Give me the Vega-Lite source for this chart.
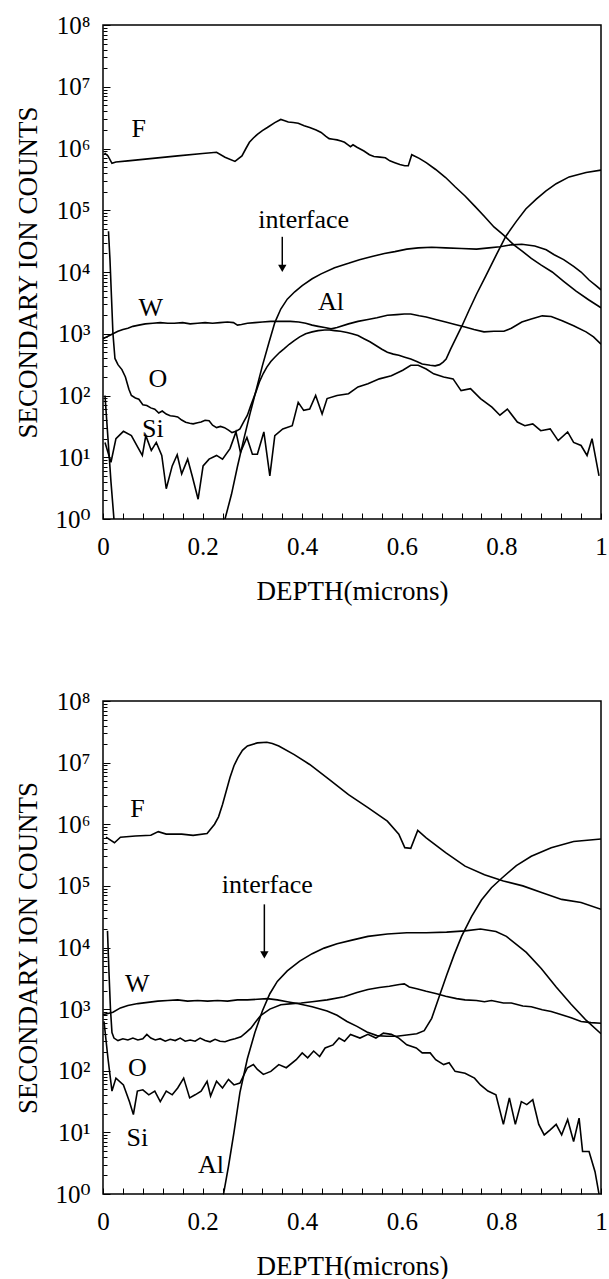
{
"$schema": "https://vega.github.io/schema/vega-lite/v6.json",
"padding": {"left": 14, "top": 12, "right": 6, "bottom": 5},
"spacing": 83,
"config": {
 "font": "Liberation Serif, Times New Roman, Times, DejaVu Serif, serif",
 "view": {"stroke": "black", "strokeWidth": 1.5},
 "axis": {"domain": false, "grid": false, "labelFont": "Liberation Serif, Times New Roman, Times, DejaVu Serif, serif", "labelFontSize": 25, "labelColor": "black", "titleFont": "Liberation Serif, Times New Roman, Times, DejaVu Serif, serif", "titleFontSize": 27, "titleFontWeight": "normal", "titleColor": "black", "tickColor": "black", "tickWidth": 1, "labelOverlap": false},
 "text": {"font": "Liberation Serif, Times New Roman, Times, DejaVu Serif, serif", "fontSize": 26, "color": "black"}
},
"datasets": {
 "top": [
  {"s":"F","x":0.003,"y":851000},{"s":"F","x":0.01,"y":759000},{"s":"F","x":0.018,"y":575000},{"s":"F","x":0.026,"y":603000},{"s":"F","x":0.05,"y":631000},{"s":"F","x":0.1,"y":692000},{"s":"F","x":0.15,"y":759000},{"s":"F","x":0.2,"y":832000},{"s":"F","x":0.228,"y":871000},{"s":"F","x":0.245,"y":724000},{"s":"F","x":0.265,"y":617000},{"s":"F","x":0.279,"y":759000},{"s":"F","x":0.287,"y":1000000},{"s":"F","x":0.294,"y":1259000},{"s":"F","x":0.302,"y":1479000},{"s":"F","x":0.31,"y":1698000},{"s":"F","x":0.32,"y":1950000},{"s":"F","x":0.33,"y":2188000},{"s":"F","x":0.345,"y":2630000},{"s":"F","x":0.357,"y":2951000},{"s":"F","x":0.365,"y":2818000},{"s":"F","x":0.372,"y":2692000},{"s":"F","x":0.382,"y":2630000},{"s":"F","x":0.392,"y":2570000},{"s":"F","x":0.404,"y":2344000},{"s":"F","x":0.415,"y":2188000},{"s":"F","x":0.428,"y":1995000},{"s":"F","x":0.438,"y":1820000},{"s":"F","x":0.447,"y":1585000},{"s":"F","x":0.454,"y":1445000},{"s":"F","x":0.462,"y":1413000},{"s":"F","x":0.47,"y":1380000},{"s":"F","x":0.478,"y":1318000},{"s":"F","x":0.485,"y":1259000},{"s":"F","x":0.492,"y":1148000},{"s":"F","x":0.497,"y":1072000},{"s":"F","x":0.502,"y":1148000},{"s":"F","x":0.51,"y":1047000},{"s":"F","x":0.524,"y":912000},{"s":"F","x":0.535,"y":794000},{"s":"F","x":0.544,"y":741000},{"s":"F","x":0.556,"y":724000},{"s":"F","x":0.567,"y":708000},{"s":"F","x":0.576,"y":631000},{"s":"F","x":0.586,"y":589000},{"s":"F","x":0.596,"y":550000},{"s":"F","x":0.606,"y":525000},{"s":"F","x":0.613,"y":525000},{"s":"F","x":0.62,"y":794000},{"s":"F","x":0.635,"y":692000},{"s":"F","x":0.649,"y":589000},{"s":"F","x":0.668,"y":457000},{"s":"F","x":0.688,"y":339000},{"s":"F","x":0.707,"y":240000},{"s":"F","x":0.727,"y":170000},{"s":"F","x":0.746,"y":117500},{"s":"F","x":0.766,"y":79400},{"s":"F","x":0.785,"y":53700},{"s":"F","x":0.804,"y":39800},{"s":"F","x":0.825,"y":27500},{"s":"F","x":0.843,"y":21400},{"s":"F","x":0.86,"y":16600},{"s":"F","x":0.88,"y":12900},{"s":"F","x":0.902,"y":10000},{"s":"F","x":0.925,"y":7080},{"s":"F","x":0.95,"y":4900},{"s":"F","x":0.975,"y":3550},{"s":"F","x":1.0,"y":2630},
  {"s":"Al","x":0.004,"y":100},{"s":"Al","x":0.01,"y":20},{"s":"Al","x":0.016,"y":4},{"s":"Al","x":0.022,"y":1},{"s":"Al","x":0.027,"y":0.25},{"s":"Al","x":0.235,"y":0.25},{"s":"Al","x":0.245,"y":1},{"s":"Al","x":0.258,"y":2.51},{"s":"Al","x":0.27,"y":7.08},{"s":"Al","x":0.283,"y":20},{"s":"Al","x":0.295,"y":50},{"s":"Al","x":0.308,"y":126},{"s":"Al","x":0.32,"y":302},{"s":"Al","x":0.333,"y":708},{"s":"Al","x":0.345,"y":1514},{"s":"Al","x":0.357,"y":2512},{"s":"Al","x":0.37,"y":3631},{"s":"Al","x":0.385,"y":4786},{"s":"Al","x":0.4,"y":6026},{"s":"Al","x":0.42,"y":7762},{"s":"Al","x":0.438,"y":9333},{"s":"Al","x":0.465,"y":11750},{"s":"Al","x":0.493,"y":13800},{"s":"Al","x":0.515,"y":15850},{"s":"Al","x":0.54,"y":17780},{"s":"Al","x":0.565,"y":19950},{"s":"Al","x":0.586,"y":21380},{"s":"Al","x":0.61,"y":23440},{"s":"Al","x":0.633,"y":24550},{"s":"Al","x":0.66,"y":25120},{"s":"Al","x":0.688,"y":24550},{"s":"Al","x":0.72,"y":23990},{"s":"Al","x":0.75,"y":23440},{"s":"Al","x":0.775,"y":24550},{"s":"Al","x":0.797,"y":25700},{"s":"Al","x":0.82,"y":27540},{"s":"Al","x":0.841,"y":28180},{"s":"Al","x":0.867,"y":26300},{"s":"Al","x":0.89,"y":22910},{"s":"Al","x":0.906,"y":19050},{"s":"Al","x":0.925,"y":15850},{"s":"Al","x":0.945,"y":12300},{"s":"Al","x":0.96,"y":10000},{"s":"Al","x":0.976,"y":7413},{"s":"Al","x":0.99,"y":6026},{"s":"Al","x":1.0,"y":5129},
  {"s":"W","x":0.0,"y":832},{"s":"W","x":0.01,"y":912},{"s":"W","x":0.02,"y":1000},{"s":"W","x":0.03,"y":1096},{"s":"W","x":0.04,"y":1175},{"s":"W","x":0.05,"y":1230},{"s":"W","x":0.06,"y":1318},{"s":"W","x":0.072,"y":1380},{"s":"W","x":0.085,"y":1445},{"s":"W","x":0.1,"y":1479},{"s":"W","x":0.115,"y":1514},{"s":"W","x":0.13,"y":1479},{"s":"W","x":0.143,"y":1479},{"s":"W","x":0.16,"y":1514},{"s":"W","x":0.175,"y":1445},{"s":"W","x":0.19,"y":1479},{"s":"W","x":0.205,"y":1514},{"s":"W","x":0.22,"y":1479},{"s":"W","x":0.235,"y":1514},{"s":"W","x":0.25,"y":1549},{"s":"W","x":0.262,"y":1514},{"s":"W","x":0.27,"y":1380},{"s":"W","x":0.278,"y":1413},{"s":"W","x":0.29,"y":1479},{"s":"W","x":0.305,"y":1514},{"s":"W","x":0.32,"y":1549},{"s":"W","x":0.337,"y":1585},{"s":"W","x":0.355,"y":1585},{"s":"W","x":0.376,"y":1585},{"s":"W","x":0.393,"y":1549},{"s":"W","x":0.407,"y":1479},{"s":"W","x":0.42,"y":1380},{"s":"W","x":0.432,"y":1318},{"s":"W","x":0.445,"y":1259},{"s":"W","x":0.458,"y":1202},{"s":"W","x":0.47,"y":1259},{"s":"W","x":0.493,"y":1445},{"s":"W","x":0.512,"y":1585},{"s":"W","x":0.532,"y":1698},{"s":"W","x":0.55,"y":1820},{"s":"W","x":0.571,"y":1995},{"s":"W","x":0.59,"y":2042},{"s":"W","x":0.605,"y":2089},{"s":"W","x":0.618,"y":2089},{"s":"W","x":0.635,"y":1950},{"s":"W","x":0.649,"y":1862},{"s":"W","x":0.668,"y":1698},{"s":"W","x":0.688,"y":1549},{"s":"W","x":0.707,"y":1413},{"s":"W","x":0.727,"y":1288},{"s":"W","x":0.745,"y":1175},{"s":"W","x":0.765,"y":1072},{"s":"W","x":0.785,"y":1096},{"s":"W","x":0.805,"y":1096},{"s":"W","x":0.82,"y":1230},{"s":"W","x":0.841,"y":1549},{"s":"W","x":0.86,"y":1738},{"s":"W","x":0.882,"y":1950},{"s":"W","x":0.9,"y":1905},{"s":"W","x":0.922,"y":1622},{"s":"W","x":0.945,"y":1349},{"s":"W","x":0.97,"y":1072},{"s":"W","x":0.985,"y":891},{"s":"W","x":1.0,"y":676},
  {"s":"O","x":0.011,"y":45700},{"s":"O","x":0.014,"y":15850},{"s":"O","x":0.017,"y":3981},{"s":"O","x":0.02,"y":1000},{"s":"O","x":0.024,"y":398},{"s":"O","x":0.03,"y":316},{"s":"O","x":0.038,"y":263},{"s":"O","x":0.045,"y":200},{"s":"O","x":0.052,"y":126},{"s":"O","x":0.057,"y":100},{"s":"O","x":0.065,"y":91},{"s":"O","x":0.072,"y":87},{"s":"O","x":0.08,"y":71},{"s":"O","x":0.088,"y":69},{"s":"O","x":0.096,"y":63},{"s":"O","x":0.104,"y":60},{"s":"O","x":0.112,"y":52},{"s":"O","x":0.119,"y":56},{"s":"O","x":0.127,"y":50},{"s":"O","x":0.135,"y":47},{"s":"O","x":0.143,"y":46},{"s":"O","x":0.15,"y":45},{"s":"O","x":0.158,"y":40},{"s":"O","x":0.166,"y":37},{"s":"O","x":0.174,"y":35.5},{"s":"O","x":0.181,"y":34.7},{"s":"O","x":0.19,"y":36.3},{"s":"O","x":0.197,"y":37.2},{"s":"O","x":0.205,"y":39.8},{"s":"O","x":0.213,"y":38.9},{"s":"O","x":0.22,"y":33.1},{"s":"O","x":0.228,"y":30.2},{"s":"O","x":0.236,"y":31.6},{"s":"O","x":0.244,"y":30.2},{"s":"O","x":0.252,"y":27.5},{"s":"O","x":0.259,"y":25.1},{"s":"O","x":0.267,"y":26.3},{"s":"O","x":0.275,"y":28.8},{"s":"O","x":0.283,"y":38},{"s":"O","x":0.29,"y":47.9},{"s":"O","x":0.296,"y":66},{"s":"O","x":0.302,"y":89},{"s":"O","x":0.308,"y":120},{"s":"O","x":0.314,"y":166},{"s":"O","x":0.322,"y":229},{"s":"O","x":0.329,"y":288},{"s":"O","x":0.337,"y":355},{"s":"O","x":0.345,"y":417},{"s":"O","x":0.355,"y":501},{"s":"O","x":0.364,"y":575},{"s":"O","x":0.374,"y":676},{"s":"O","x":0.384,"y":776},{"s":"O","x":0.395,"y":891},{"s":"O","x":0.407,"y":1000},{"s":"O","x":0.42,"y":1072},{"s":"O","x":0.432,"y":1122},{"s":"O","x":0.445,"y":1148},{"s":"O","x":0.455,"y":1148},{"s":"O","x":0.465,"y":1122},{"s":"O","x":0.477,"y":1096},{"s":"O","x":0.49,"y":1047},{"s":"O","x":0.5,"y":1000},{"s":"O","x":0.512,"y":933},{"s":"O","x":0.524,"y":832},{"s":"O","x":0.536,"y":741},{"s":"O","x":0.548,"y":646},{"s":"O","x":0.56,"y":562},{"s":"O","x":0.571,"y":501},{"s":"O","x":0.583,"y":468},{"s":"O","x":0.594,"y":447},{"s":"O","x":0.606,"y":417},{"s":"O","x":0.618,"y":389},{"s":"O","x":0.63,"y":355},{"s":"O","x":0.641,"y":324},{"s":"O","x":0.657,"y":309},{"s":"O","x":0.667,"y":302},{"s":"O","x":0.676,"y":316},{"s":"O","x":0.683,"y":347},{"s":"O","x":0.689,"y":389},{"s":"O","x":0.698,"y":562},{"s":"O","x":0.71,"y":891},{"s":"O","x":0.721,"y":1349},{"s":"O","x":0.735,"y":2399},{"s":"O","x":0.75,"y":4365},{"s":"O","x":0.769,"y":8710},{"s":"O","x":0.79,"y":19050},{"s":"O","x":0.809,"y":38020},{"s":"O","x":0.83,"y":66070},{"s":"O","x":0.849,"y":104700},{"s":"O","x":0.87,"y":151400},{"s":"O","x":0.889,"y":204200},{"s":"O","x":0.91,"y":269200},{"s":"O","x":0.936,"y":346700},{"s":"O","x":0.97,"y":407400},{"s":"O","x":1.0,"y":446700},
  {"s":"Si","x":0.004,"y":17.4},{"s":"Si","x":0.016,"y":8.3},{"s":"Si","x":0.026,"y":20},{"s":"Si","x":0.041,"y":26.3},{"s":"Si","x":0.057,"y":22.4},{"s":"Si","x":0.07,"y":14.5},{"s":"Si","x":0.079,"y":10.7},{"s":"Si","x":0.086,"y":22.4},{"s":"Si","x":0.097,"y":12.9},{"s":"Si","x":0.107,"y":17.4},{"s":"Si","x":0.118,"y":10.7},{"s":"Si","x":0.127,"y":3.09},{"s":"Si","x":0.139,"y":7.24},{"s":"Si","x":0.149,"y":11},{"s":"Si","x":0.158,"y":5.37},{"s":"Si","x":0.17,"y":9.33},{"s":"Si","x":0.179,"y":5.01},{"s":"Si","x":0.191,"y":2.09},{"s":"Si","x":0.201,"y":7.24},{"s":"Si","x":0.213,"y":9.33},{"s":"Si","x":0.228,"y":10.7},{"s":"Si","x":0.24,"y":9.33},{"s":"Si","x":0.255,"y":13.8},{"s":"Si","x":0.267,"y":25.7},{"s":"Si","x":0.276,"y":12},{"s":"Si","x":0.289,"y":20.9},{"s":"Si","x":0.3,"y":11.2},{"s":"Si","x":0.31,"y":11.2},{"s":"Si","x":0.323,"y":25.7},{"s":"Si","x":0.335,"y":5.01},{"s":"Si","x":0.345,"y":22.4},{"s":"Si","x":0.361,"y":28.8},{"s":"Si","x":0.38,"y":32.4},{"s":"Si","x":0.392,"y":77.6},{"s":"Si","x":0.403,"y":57.5},{"s":"Si","x":0.415,"y":60.3},{"s":"Si","x":0.427,"y":100},{"s":"Si","x":0.44,"y":50.1},{"s":"Si","x":0.45,"y":89.1},{"s":"Si","x":0.47,"y":100},{"s":"Si","x":0.493,"y":107},{"s":"Si","x":0.512,"y":138},{"s":"Si","x":0.532,"y":155},{"s":"Si","x":0.555,"y":186},{"s":"Si","x":0.579,"y":209},{"s":"Si","x":0.602,"y":257},{"s":"Si","x":0.618,"y":309},{"s":"Si","x":0.633,"y":309},{"s":"Si","x":0.649,"y":269},{"s":"Si","x":0.664,"y":224},{"s":"Si","x":0.684,"y":200},{"s":"Si","x":0.703,"y":186},{"s":"Si","x":0.719,"y":120},{"s":"Si","x":0.738,"y":129},{"s":"Si","x":0.758,"y":89.1},{"s":"Si","x":0.781,"y":64.6},{"s":"Si","x":0.797,"y":47.9},{"s":"Si","x":0.812,"y":60.3},{"s":"Si","x":0.832,"y":37.2},{"s":"Si","x":0.847,"y":32.4},{"s":"Si","x":0.863,"y":34.7},{"s":"Si","x":0.879,"y":26.9},{"s":"Si","x":0.898,"y":28.8},{"s":"Si","x":0.914,"y":18.6},{"s":"Si","x":0.933,"y":25.7},{"s":"Si","x":0.945,"y":17.4},{"s":"Si","x":0.96,"y":15.5},{"s":"Si","x":0.972,"y":10.7},{"s":"Si","x":0.982,"y":20},{"s":"Si","x":0.996,"y":5}
 ],
 "bottom": [
  {"s":"F","x":0.006,"y":617000},{"s":"F","x":0.023,"y":501000},{"s":"F","x":0.035,"y":617000},{"s":"F","x":0.065,"y":646000},{"s":"F","x":0.096,"y":661000},{"s":"F","x":0.111,"y":759000},{"s":"F","x":0.127,"y":692000},{"s":"F","x":0.158,"y":692000},{"s":"F","x":0.181,"y":661000},{"s":"F","x":0.209,"y":708000},{"s":"F","x":0.224,"y":1000000},{"s":"F","x":0.232,"y":1318000},{"s":"F","x":0.24,"y":2089000},{"s":"F","x":0.255,"y":5754000},{"s":"F","x":0.263,"y":8913000},{"s":"F","x":0.271,"y":12020000},{"s":"F","x":0.28,"y":15850000},{"s":"F","x":0.29,"y":18620000},{"s":"F","x":0.31,"y":20890000},{"s":"F","x":0.329,"y":21380000},{"s":"F","x":0.34,"y":20420000},{"s":"F","x":0.353,"y":18620000},{"s":"F","x":0.384,"y":13490000},{"s":"F","x":0.415,"y":9333000},{"s":"F","x":0.454,"y":5370000},{"s":"F","x":0.493,"y":3020000},{"s":"F","x":0.532,"y":1862000},{"s":"F","x":0.571,"y":1122000},{"s":"F","x":0.594,"y":692000},{"s":"F","x":0.606,"y":417000},{"s":"F","x":0.618,"y":407000},{"s":"F","x":0.632,"y":794000},{"s":"F","x":0.649,"y":603000},{"s":"F","x":0.688,"y":347000},{"s":"F","x":0.727,"y":209000},{"s":"F","x":0.766,"y":151000},{"s":"F","x":0.804,"y":120000},{"s":"F","x":0.843,"y":100000},{"s":"F","x":0.882,"y":77600},{"s":"F","x":0.921,"y":60300},{"s":"F","x":0.96,"y":53700},{"s":"F","x":1.0,"y":41700},
  {"s":"W","x":0.0,"y":813},{"s":"W","x":0.01,"y":851},{"s":"W","x":0.02,"y":891},{"s":"W","x":0.035,"y":1047},{"s":"W","x":0.05,"y":1148},{"s":"W","x":0.07,"y":1230},{"s":"W","x":0.09,"y":1288},{"s":"W","x":0.11,"y":1349},{"s":"W","x":0.13,"y":1380},{"s":"W","x":0.15,"y":1413},{"s":"W","x":0.17,"y":1349},{"s":"W","x":0.19,"y":1380},{"s":"W","x":0.21,"y":1349},{"s":"W","x":0.23,"y":1380},{"s":"W","x":0.25,"y":1349},{"s":"W","x":0.27,"y":1413},{"s":"W","x":0.29,"y":1413},{"s":"W","x":0.31,"y":1445},{"s":"W","x":0.33,"y":1479},{"s":"W","x":0.35,"y":1413},{"s":"W","x":0.37,"y":1318},{"s":"W","x":0.39,"y":1230},{"s":"W","x":0.42,"y":1096},{"s":"W","x":0.45,"y":933},{"s":"W","x":0.47,"y":794},{"s":"W","x":0.49,"y":631},{"s":"W","x":0.51,"y":525},{"s":"W","x":0.53,"y":427},{"s":"W","x":0.55,"y":372},{"s":"W","x":0.57,"y":363},{"s":"W","x":0.59,"y":363},{"s":"W","x":0.61,"y":380},{"s":"W","x":0.63,"y":398},{"s":"W","x":0.645,"y":447},{"s":"W","x":0.66,"y":708},{"s":"W","x":0.675,"y":1585},{"s":"W","x":0.69,"y":3548},{"s":"W","x":0.705,"y":7586},{"s":"W","x":0.72,"y":15140},{"s":"W","x":0.74,"y":31620},{"s":"W","x":0.76,"y":58880},{"s":"W","x":0.78,"y":93330},{"s":"W","x":0.8,"y":131800},{"s":"W","x":0.83,"y":213800},{"s":"W","x":0.86,"y":302000},{"s":"W","x":0.9,"y":416900},{"s":"W","x":0.945,"y":524800},{"s":"W","x":1.0,"y":575400},
  {"s":"O","x":0.009,"y":18620},{"s":"O","x":0.012,"y":3981},{"s":"O","x":0.015,"y":1000},{"s":"O","x":0.018,"y":417},{"s":"O","x":0.022,"y":339},{"s":"O","x":0.03,"y":309},{"s":"O","x":0.04,"y":331},{"s":"O","x":0.05,"y":316},{"s":"O","x":0.06,"y":339},{"s":"O","x":0.07,"y":316},{"s":"O","x":0.08,"y":331},{"s":"O","x":0.088,"y":389},{"s":"O","x":0.096,"y":339},{"s":"O","x":0.105,"y":316},{"s":"O","x":0.115,"y":331},{"s":"O","x":0.125,"y":302},{"s":"O","x":0.135,"y":324},{"s":"O","x":0.145,"y":309},{"s":"O","x":0.155,"y":339},{"s":"O","x":0.165,"y":302},{"s":"O","x":0.175,"y":316},{"s":"O","x":0.185,"y":302},{"s":"O","x":0.195,"y":339},{"s":"O","x":0.205,"y":309},{"s":"O","x":0.215,"y":295},{"s":"O","x":0.225,"y":324},{"s":"O","x":0.235,"y":302},{"s":"O","x":0.245,"y":295},{"s":"O","x":0.255,"y":316},{"s":"O","x":0.265,"y":331},{"s":"O","x":0.277,"y":355},{"s":"O","x":0.287,"y":417},{"s":"O","x":0.297,"y":490},{"s":"O","x":0.307,"y":631},{"s":"O","x":0.317,"y":794},{"s":"O","x":0.335,"y":1000},{"s":"O","x":0.357,"y":1175},{"s":"O","x":0.38,"y":1230},{"s":"O","x":0.398,"y":1259},{"s":"O","x":0.42,"y":1318},{"s":"O","x":0.45,"y":1413},{"s":"O","x":0.484,"y":1585},{"s":"O","x":0.51,"y":1862},{"s":"O","x":0.532,"y":2089},{"s":"O","x":0.555,"y":2239},{"s":"O","x":0.575,"y":2344},{"s":"O","x":0.595,"y":2512},{"s":"O","x":0.605,"y":2570},{"s":"O","x":0.615,"y":2291},{"s":"O","x":0.63,"y":2138},{"s":"O","x":0.649,"y":1950},{"s":"O","x":0.67,"y":1778},{"s":"O","x":0.688,"y":1622},{"s":"O","x":0.71,"y":1479},{"s":"O","x":0.727,"y":1413},{"s":"O","x":0.75,"y":1380},{"s":"O","x":0.766,"y":1318},{"s":"O","x":0.78,"y":1380},{"s":"O","x":0.804,"y":1259},{"s":"O","x":0.82,"y":1259},{"s":"O","x":0.843,"y":1122},{"s":"O","x":0.86,"y":1096},{"s":"O","x":0.882,"y":977},{"s":"O","x":0.9,"y":912},{"s":"O","x":0.921,"y":813},{"s":"O","x":0.94,"y":724},{"s":"O","x":0.96,"y":631},{"s":"O","x":0.98,"y":603},{"s":"O","x":1.0,"y":589},
  {"s":"Al","x":0.235,"y":0.3},{"s":"Al","x":0.242,"y":1},{"s":"Al","x":0.252,"y":2.82},{"s":"Al","x":0.263,"y":10},{"s":"Al","x":0.275,"y":44.7},{"s":"Al","x":0.29,"y":158},{"s":"Al","x":0.305,"y":417},{"s":"Al","x":0.32,"y":933},{"s":"Al","x":0.335,"y":1778},{"s":"Al","x":0.35,"y":2818},{"s":"Al","x":0.37,"y":4169},{"s":"Al","x":0.395,"y":6026},{"s":"Al","x":0.42,"y":7943},{"s":"Al","x":0.444,"y":9772},{"s":"Al","x":0.47,"y":11480},{"s":"Al","x":0.5,"y":13180},{"s":"Al","x":0.532,"y":15140},{"s":"Al","x":0.571,"y":16600},{"s":"Al","x":0.61,"y":17380},{"s":"Al","x":0.649,"y":17380},{"s":"Al","x":0.69,"y":17780},{"s":"Al","x":0.727,"y":18620},{"s":"Al","x":0.758,"y":19950},{"s":"Al","x":0.789,"y":18200},{"s":"Al","x":0.81,"y":15140},{"s":"Al","x":0.83,"y":11220},{"s":"Al","x":0.85,"y":8318},{"s":"Al","x":0.88,"y":4571},{"s":"Al","x":0.91,"y":2291},{"s":"Al","x":0.94,"y":1202},{"s":"Al","x":0.97,"y":661},{"s":"Al","x":1.0,"y":398},
  {"s":"Si","x":0.002,"y":631},{"s":"Si","x":0.01,"y":158},{"s":"Si","x":0.018,"y":46.8},{"s":"Si","x":0.026,"y":75.9},{"s":"Si","x":0.041,"y":58.9},{"s":"Si","x":0.053,"y":31.6},{"s":"Si","x":0.061,"y":19.5},{"s":"Si","x":0.069,"y":46.8},{"s":"Si","x":0.08,"y":49},{"s":"Si","x":0.092,"y":40.7},{"s":"Si","x":0.104,"y":46.8},{"s":"Si","x":0.115,"y":31.6},{"s":"Si","x":0.127,"y":46.8},{"s":"Si","x":0.139,"y":40.7},{"s":"Si","x":0.15,"y":52.5},{"s":"Si","x":0.162,"y":75.9},{"s":"Si","x":0.174,"y":36.3},{"s":"Si","x":0.185,"y":40.7},{"s":"Si","x":0.197,"y":46.8},{"s":"Si","x":0.209,"y":67.6},{"s":"Si","x":0.216,"y":38.9},{"s":"Si","x":0.228,"y":67.6},{"s":"Si","x":0.24,"y":52.5},{"s":"Si","x":0.252,"y":72.4},{"s":"Si","x":0.263,"y":58.9},{"s":"Si","x":0.275,"y":63.1},{"s":"Si","x":0.29,"y":112},{"s":"Si","x":0.302,"y":126},{"s":"Si","x":0.31,"y":105},{"s":"Si","x":0.322,"y":87.1},{"s":"Si","x":0.337,"y":97.7},{"s":"Si","x":0.353,"y":126},{"s":"Si","x":0.368,"y":112},{"s":"Si","x":0.388,"y":151},{"s":"Si","x":0.4,"y":195},{"s":"Si","x":0.411,"y":162},{"s":"Si","x":0.423,"y":209},{"s":"Si","x":0.435,"y":170},{"s":"Si","x":0.446,"y":234},{"s":"Si","x":0.462,"y":263},{"s":"Si","x":0.474,"y":339},{"s":"Si","x":0.485,"y":302},{"s":"Si","x":0.497,"y":389},{"s":"Si","x":0.516,"y":339},{"s":"Si","x":0.532,"y":389},{"s":"Si","x":0.548,"y":339},{"s":"Si","x":0.563,"y":407},{"s":"Si","x":0.579,"y":389},{"s":"Si","x":0.594,"y":339},{"s":"Si","x":0.61,"y":263},{"s":"Si","x":0.629,"y":234},{"s":"Si","x":0.641,"y":195},{"s":"Si","x":0.657,"y":195},{"s":"Si","x":0.668,"y":151},{"s":"Si","x":0.684,"y":126},{"s":"Si","x":0.695,"y":135},{"s":"Si","x":0.707,"y":97.7},{"s":"Si","x":0.727,"y":91.2},{"s":"Si","x":0.746,"y":75.9},{"s":"Si","x":0.758,"y":58.9},{"s":"Si","x":0.773,"y":46.8},{"s":"Si","x":0.789,"y":40.7},{"s":"Si","x":0.804,"y":13.5},{"s":"Si","x":0.816,"y":36.3},{"s":"Si","x":0.828,"y":13.5},{"s":"Si","x":0.84,"y":31.6},{"s":"Si","x":0.851,"y":28.2},{"s":"Si","x":0.863,"y":33.9},{"s":"Si","x":0.875,"y":13.5},{"s":"Si","x":0.886,"y":9.1},{"s":"Si","x":0.898,"y":11},{"s":"Si","x":0.91,"y":13.5},{"s":"Si","x":0.921,"y":9.1},{"s":"Si","x":0.933,"y":16.2},{"s":"Si","x":0.945,"y":7.1},{"s":"Si","x":0.956,"y":17},{"s":"Si","x":0.963,"y":4.9},{"s":"Si","x":0.976,"y":4.9},{"s":"Si","x":0.988,"y":2.3},{"s":"Si","x":0.996,"y":1},{"s":"Si","x":1.0,"y":0.3}
 ],
 "labtop": [
  {"t":"F","x":0.072,"y":2089000},{"t":"interface","x":0.403,"y":70800},{"t":"Al","x":0.458,"y":3311},{"t":"W","x":0.096,"y":2570},{"t":"O","x":0.11,"y":186},{"t":"Si","x":0.1,"y":28.8}
 ],
 "labbot": [
  {"t":"F","x":0.069,"y":1738000},{"t":"interface","x":0.33,"y":104700},{"t":"W","x":0.069,"y":2512},{"t":"O","x":0.069,"y":112},{"t":"Si","x":0.069,"y":8.1},{"t":"Al","x":0.217,"y":3.0}
 ],
 "arrtop": [{"x":0.36,"y":37150,"y2":11480}],
 "headtop": [{"x":0.36,"y":11480}],
 "arrbot": [{"x":0.324,"y":50120,"y2":7586}],
 "headbot": [{"x":0.324,"y":7586}]
},
"vconcat": [
 {
  "width": 498, "height": 494,
  "encoding": {
   "x": {"field": "x", "type": "quantitative", "scale": {"domain": [0, 1], "nice": false, "zero": false},
    "axis": {"title": "DEPTH(microns)", "values": [0,0.04,0.08,0.12,0.16,0.2,0.24,0.28,0.32,0.36,0.4,0.44,0.48,0.52,0.56,0.6,0.64,0.68,0.72,0.76,0.8,0.84,0.88,0.92,0.96,1],
     "labelExpr": "abs(datum.value*5 - round(datum.value*5)) < 0.001 ? (datum.value == 0 ? '0' : (datum.value > 0.999 ? '1' : format(datum.value, '.1f'))) : ''",
     "tickSize": -6, "labelPadding": 21, "labelFlush": false, "titlePadding": 19}},
   "y": {"field": "y", "type": "quantitative", "scale": {"type": "log", "domain": [1, 100000000], "nice": false},
    "axis": {"title": "SECONDARY ION COUNTS", "values": [1,2,3,4,5,6,7,8,9,10,20,30,40,50,60,70,80,90,100,200,300,400,500,600,700,800,900,1000,2000,3000,4000,5000,6000,7000,8000,9000,10000,20000,30000,40000,50000,60000,70000,80000,90000,100000,200000,300000,400000,500000,600000,700000,800000,900000,1000000,2000000,3000000,4000000,5000000,6000000,7000000,8000000,9000000,10000000,20000000,30000000,40000000,50000000,60000000,70000000,80000000,90000000,100000000],
     "labelExpr": "abs(log(datum.value)/LN10 - round(log(datum.value)/LN10)) < 0.001 ? '10' + ['⁰','¹','²','³','⁴','⁵','⁶','⁷','⁸'][round(log(datum.value)/LN10)] : ''",
     "tickSize": {"condition": {"test": "abs(log(datum.value)/LN10 - round(log(datum.value)/LN10)) < 0.001", "value": -7}, "value": -4},
     "labelPadding": 20, "titlePadding": 12}}
  },
  "layer": [
   {"data": {"name": "top"}, "mark": {"type": "line", "color": "black", "strokeWidth": 1.6, "clip": true}, "encoding": {"detail": {"field": "s"}}},
   {"data": {"name": "labtop"}, "mark": {"type": "text", "align": "center", "baseline": "middle"}, "encoding": {"text": {"field": "t"}}},
   {"data": {"name": "arrtop"}, "mark": {"type": "rule", "color": "black", "strokeWidth": 1.5}, "encoding": {"y2": {"field": "y2"}}},
   {"data": {"name": "headtop"}, "mark": {"type": "point", "shape": "triangle-down", "filled": true, "color": "black", "opacity": 1, "size": 70}, "encoding": {}}
  ]
 },
 {
  "width": 498, "height": 493,
  "encoding": {
   "x": {"field": "x", "type": "quantitative", "scale": {"domain": [0, 1], "nice": false, "zero": false},
    "axis": {"title": "DEPTH(microns)", "values": [0,0.04,0.08,0.12,0.16,0.2,0.24,0.28,0.32,0.36,0.4,0.44,0.48,0.52,0.56,0.6,0.64,0.68,0.72,0.76,0.8,0.84,0.88,0.92,0.96,1],
     "labelExpr": "abs(datum.value*5 - round(datum.value*5)) < 0.001 ? (datum.value == 0 ? '0' : (datum.value > 0.999 ? '1' : format(datum.value, '.1f'))) : ''",
     "tickSize": -6, "labelPadding": 21, "labelFlush": false, "titlePadding": 19}},
   "y": {"field": "y", "type": "quantitative", "scale": {"type": "log", "domain": [1, 100000000], "nice": false},
    "axis": {"title": "SECONDARY ION COUNTS", "values": [1,2,3,4,5,6,7,8,9,10,20,30,40,50,60,70,80,90,100,200,300,400,500,600,700,800,900,1000,2000,3000,4000,5000,6000,7000,8000,9000,10000,20000,30000,40000,50000,60000,70000,80000,90000,100000,200000,300000,400000,500000,600000,700000,800000,900000,1000000,2000000,3000000,4000000,5000000,6000000,7000000,8000000,9000000,10000000,20000000,30000000,40000000,50000000,60000000,70000000,80000000,90000000,100000000],
     "labelExpr": "abs(log(datum.value)/LN10 - round(log(datum.value)/LN10)) < 0.001 ? '10' + ['⁰','¹','²','³','⁴','⁵','⁶','⁷','⁸'][round(log(datum.value)/LN10)] : ''",
     "tickSize": {"condition": {"test": "abs(log(datum.value)/LN10 - round(log(datum.value)/LN10)) < 0.001", "value": -7}, "value": -4},
     "labelPadding": 20, "titlePadding": 12}}
  },
  "layer": [
   {"data": {"name": "bottom"}, "mark": {"type": "line", "color": "black", "strokeWidth": 1.6, "clip": true}, "encoding": {"detail": {"field": "s"}}},
   {"data": {"name": "labbot"}, "mark": {"type": "text", "align": "center", "baseline": "middle"}, "encoding": {"text": {"field": "t"}}},
   {"data": {"name": "arrbot"}, "mark": {"type": "rule", "color": "black", "strokeWidth": 1.5}, "encoding": {"y2": {"field": "y2"}}},
   {"data": {"name": "headbot"}, "mark": {"type": "point", "shape": "triangle-down", "filled": true, "color": "black", "opacity": 1, "size": 70}, "encoding": {}}
  ]
 }
]
}
